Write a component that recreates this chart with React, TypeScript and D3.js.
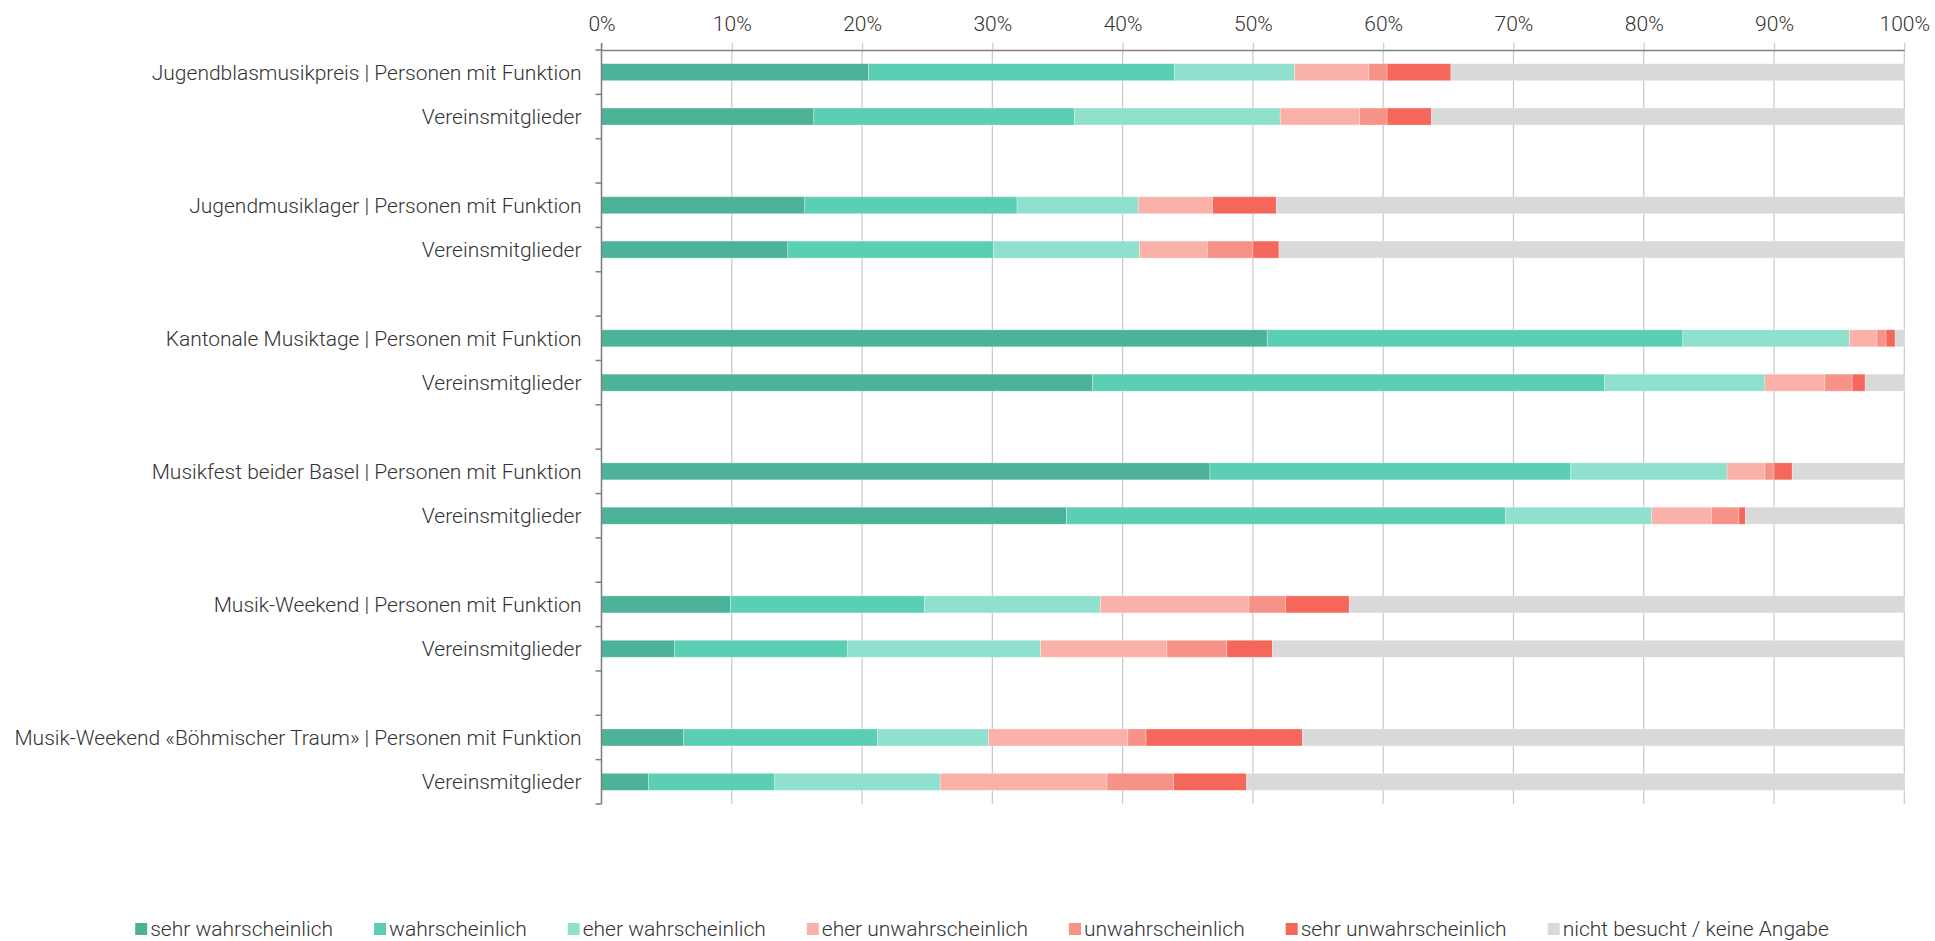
import * as D3 from 'd3'
import { useEffect, useRef } from 'react'

const EVENTS = [
  'Jugendblasmusikpreis',
  'Jugendmusiklager',
  'Kantonale Musiktage',
  'Musikfest beider Basel',
  'Musik-Weekend',
  'Musik-Weekend «Böhmischer Traum»',
]
const GROUPS = ['Personen mit Funktion', 'Vereinsmitglieder']

const SERIES = [
  'sehr wahrscheinlich',
  'wahrscheinlich',
  'eher wahrscheinlich',
  'eher unwahrscheinlich',
  'unwahrscheinlich',
  'sehr unwahrscheinlich',
  'nicht besucht / keine Angabe',
]
const COLORS = ['#4cb399', '#5bcfb3', '#8fe0cc', '#f9b1aa', '#f79289', '#f6675b', '#d9d9d9']

// one value per row, in order: event 1 PmF, event 1 Verein, event 2 PmF, ...
const SEHR_WAHR = [20.5, 16.3, 15.6, 14.3, 51.1, 37.7, 46.7, 35.7, 9.9, 5.6, 6.3, 3.6]
const WAHR = [23.5, 20.0, 16.3, 15.8, 31.9, 39.3, 27.7, 33.7, 14.9, 13.3, 14.9, 9.7]
const EHER_WAHR = [9.2, 15.8, 9.3, 11.2, 12.8, 12.3, 12.0, 11.2, 13.5, 14.8, 8.5, 12.7]
const EHER_UNWAHR = [5.7, 6.1, 5.7, 5.2, 2.1, 4.6, 2.9, 4.6, 11.4, 9.7, 10.7, 12.8]
const UNWAHR = [1.4, 2.1, 0, 3.5, 0.7, 2.1, 0.7, 2.1, 2.8, 4.6, 1.4, 5.1]
const SEHR_UNWAHR = [4.9, 3.4, 4.9, 2.0, 0.7, 1.0, 1.4, 0.5, 4.9, 3.5, 12.0, 5.6]
const KEINE = [34.8, 36.3, 48.2, 48.0, 0.7, 3.0, 8.6, 12.2, 42.6, 48.5, 46.2, 50.5]

const TICKS = [0, 10, 20, 30, 40, 50, 60, 70, 80, 90, 100]

export default function App() {
  const ref = useRef<HTMLDivElement>(null)

  useEffect(() => {
    const width = 1935
    const height = 941
    const marginTop = 50
    const marginLeft = 601.5
    const marginRight = 30.7
    const plotBottom = 804
    const barHeight = 17
    const fontSize = 21
    const font = 'Roboto, "Helvetica Neue", sans-serif'

    /* rows with an empty slot between the events */
    const keys: string[] = []
    const labels: Record<string, string> = {}
    EVENTS.forEach((ev, i) => {
      GROUPS.forEach((g, j) => {
        const k = `r${i}-${j}`
        keys.push(k)
        labels[k] = j === 0 ? `${ev} | ${g}` : g
      })
      if (i < EVENTS.length - 1) keys.push(`gap${i}`)
    })

    const columns = [SEHR_WAHR, WAHR, EHER_WAHR, EHER_UNWAHR, UNWAHR, SEHR_UNWAHR, KEINE]
    const rows = keys
      .filter((k) => k.startsWith('r'))
      .map((k, i) => {
        const row: Record<string, any> = { key: k }
        SERIES.forEach((s, si) => (row[s] = columns[si][i]))
        return row
      })

    const stacked = D3.stack<Record<string, any>>().keys(SERIES)(rows)

    const x = D3.scaleLinear().domain([0, 100]).range([marginLeft, width - marginRight])
    const y = D3.scaleBand().domain(keys).range([marginTop, plotBottom]).padding(0)
    const color = D3.scaleOrdinal<string, string>().domain(SERIES).range(COLORS)

    const root = ref.current
    if (!root) return
    root.innerHTML = ''

    const svg = D3.create('svg')
      .attr('width', width)
      .attr('height', height)
      .attr('viewBox', [0, 0, width, height])
      .attr('style', `position:absolute;left:0;top:0;background:#fff;font-family:${font};font-weight:300;`)

    /* grid lines */
    svg
      .append('g')
      .selectAll()
      .data(TICKS)
      .join('line')
      .attr('x1', (d) => x(d))
      .attr('x2', (d) => x(d))
      .attr('y1', marginTop)
      .attr('y2', plotBottom)
      .attr('stroke', '#c8c8c8')
      .attr('stroke-width', 1.2)

    /* bars */
    svg
      .append('g')
      .selectAll()
      .data(stacked)
      .join('g')
      .attr('fill', (d) => color(d.key))
      .selectAll('rect')
      .data((d) => d)
      .join('rect')
      .attr('x', (d) => x(d[0]))
      .attr('width', (d) => Math.max(0, x(d[1]) - x(d[0])))
      .attr('y', (d) => (y(d.data.key) as number) + (y.bandwidth() - barHeight) / 2)
      .attr('height', barHeight)
      .attr('stroke', '#ffffff')
      .attr('stroke-opacity', 0.35)
      .attr('stroke-width', 0.8)

    /* top axis */
    svg
      .append('g')
      .attr('transform', `translate(0, ${marginTop})`)
      .call(
        D3.axisTop(x)
          .tickValues(TICKS)
          .tickSize(7)
          .tickSizeOuter(0)
          .tickPadding(12)
          .tickFormat((d) => `${d}%`),
      )
      .call((g) => g.select('.domain').attr('stroke', '#808080').attr('stroke-width', 1.5))
      .call((g) => g.selectAll('.tick line').attr('stroke', '#c8c8c8').attr('stroke-width', 1.2))
      .call((g) =>
        g
          .selectAll('.tick text')
          .attr('fill', '#333')
          .attr('font-size', fontSize)
          .attr('font-family', font)
          .attr('font-weight', 300),
      )

    /* left axis: line, ticks at band edges, labels */
    const left = svg.append('g')
    const edges = keys.map((k) => y(k) as number).concat([plotBottom])
    left
      .append('line')
      .attr('x1', marginLeft)
      .attr('x2', marginLeft)
      .attr('y1', marginTop - 7)
      .attr('y2', plotBottom)
      .attr('stroke', '#808080')
      .attr('stroke-width', 1.5)
    left
      .selectAll('.edge')
      .data(edges)
      .join('line')
      .attr('class', 'edge')
      .attr('x1', marginLeft - 6)
      .attr('x2', marginLeft)
      .attr('y1', (d) => d)
      .attr('y2', (d) => d)
      .attr('stroke', '#808080')
      .attr('stroke-width', 1.5)
    left
      .selectAll('text')
      .data(rows)
      .join('text')
      .attr('x', marginLeft - 20)
      .attr('y', (d) => (y(d.key) as number) + y.bandwidth() / 2)
      .attr('dy', '0.35em')
      .attr('text-anchor', 'end')
      .attr('font-size', fontSize)
      .attr('fill', '#333')
      .text((d) => labels[d.key])

    root.appendChild(svg.node() as SVGSVGElement)

    /* legend, measured then centred */
    const legend = svg.append('g').attr('transform', 'translate(0, 929)')
    const items = legend.selectAll('g').data(SERIES).join('g')
    items
      .append('rect')
      .attr('x', 0)
      .attr('y', -6)
      .attr('width', 12)
      .attr('height', 12)
      .attr('fill', (d) => color(d))
    items
      .append('text')
      .attr('x', 15)
      .attr('dy', '0.35em')
      .attr('font-size', fontSize)
      .attr('fill', '#333')
      .text((d) => d)
    const gap = 41
    let cx = 0
    const offsets: number[] = []
    items.each(function () {
      offsets.push(cx)
      const t = (this as SVGGElement).querySelector('text') as SVGTextElement
      cx += 15 + t.getComputedTextLength() + gap
    })
    const total = cx - gap
    const start = 982 - total / 2
    items.attr('transform', (_, i) => `translate(${start + offsets[i]}, 0)`)
  }, [])

  return <div ref={ref} />
}
